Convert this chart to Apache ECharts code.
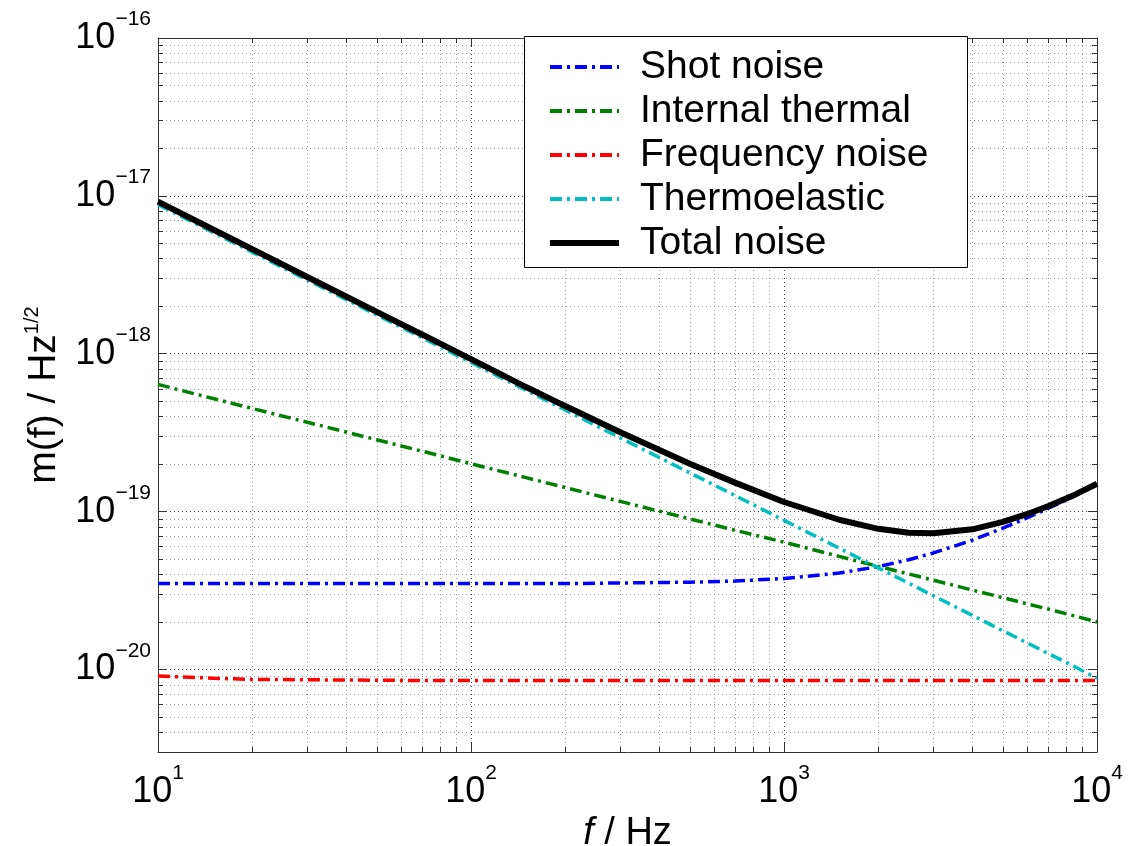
<!DOCTYPE html>
<html>
<head>
<meta charset="utf-8">
<script src="https://cdn.jsdelivr.net/npm/echarts@6/dist/echarts.min.js"></script>
<style>html,body{margin:0;padding:0;background:#fff}#chart{width:1129px;height:846px}</style>
</head>
<body>
<div id="chart"></div>
<script>
// Frequencies (Hz) and noise spectra (m / Hz^1/2)
const freq = [10, 15, 20, 30, 50, 70, 100, 150, 200, 300, 500, 700, 1000, 1500, 2000, 2500, 3000, 4000, 5000, 6000, 7000, 8500, 10000];
const shotNoise = [3.5e-20, 3.5e-20, 3.5e-20, 3.5e-20, 3.5e-20, 3.5e-20, 3.5e-20, 3.5e-20, 3.5e-20, 3.53e-20, 3.57e-20, 3.63e-20, 3.77e-20, 4.08e-20, 4.48e-20, 4.95e-20, 5.47e-20, 6.6e-20, 7.85e-20, 9.15e-20, 1.05e-19, 1.26e-19, 1.48e-19];
const internalThermal = [6.4e-19, 5.2e-19, 4.5e-19, 3.68e-19, 2.85e-19, 2.41e-19, 2.01e-19, 1.64e-19, 1.42e-19, 1.16e-19, 9.0e-20, 7.6e-20, 6.4e-20, 5.2e-20, 4.5e-20, 4.03e-20, 3.68e-20, 3.18e-20, 2.85e-20, 2.6e-20, 2.41e-20, 2.18e-20, 2.0e-20];
const frequencyNoise = [9.1e-21, 8.8e-21, 8.65e-21, 8.6e-21, 8.55e-21, 8.5e-21, 8.5e-21, 8.5e-21, 8.5e-21, 8.5e-21, 8.5e-21, 8.5e-21, 8.5e-21, 8.5e-21, 8.5e-21, 8.5e-21, 8.5e-21, 8.5e-21, 8.5e-21, 8.5e-21, 8.5e-21, 8.5e-21, 8.5e-21];
const thermoelastic = [8.8e-18, 5.87e-18, 4.4e-18, 2.93e-18, 1.76e-18, 1.26e-18, 8.8e-19, 5.87e-19, 4.4e-19, 2.93e-19, 1.76e-19, 1.26e-19, 8.8e-20, 5.87e-20, 4.4e-20, 3.52e-20, 2.93e-20, 2.2e-20, 1.76e-20, 1.47e-20, 1.26e-20, 1.04e-20, 8.8e-21];
const totalNoise = [9.2e-18, 6.12e-18, 4.6e-18, 3.06e-18, 1.84e-18, 1.32e-18, 9.25e-19, 6.15e-19, 4.66e-19, 3.18e-19, 2.01e-19, 1.52e-19, 1.15e-19, 8.88e-20, 7.78e-20, 7.34e-20, 7.28e-20, 7.72e-20, 8.6e-20, 9.66e-20, 1.085e-19, 1.28e-19, 1.5e-19];

// Axis ranges and tick decades (exponents of 10)
const xRange = [10, 10000];
const yRange = [3e-21, 1e-16];
const xDecades = [1, 2, 3, 4];
const yDecades = [-20, -19, -18, -17, -16];
const seriesNames = ['Shot noise', 'Internal thermal', 'Frequency noise', 'Thermoelastic', 'Total noise'];

const FONT = 'Liberation Sans';
const lg = Math.log10;
const xMin = lg(xRange[0]), xMax = lg(xRange[1]);
const yMin = lg(yRange[0]), yMax = lg(yRange[1]);

function minorValues(lo, hi) {
  const out = [];
  for (let n = Math.floor(lo) - 1; n <= Math.ceil(hi); n++) {
    for (let k = 2; k <= 9; k++) {
      const v = n + lg(k);
      if (v > lo + 1e-9 && v < hi - 1e-9) out.push(v);
    }
  }
  return out;
}
const xMinor = minorValues(xMin, xMax);
const yMinor = minorValues(yMin, yMax);

const labelRich = {
  b: { fontSize: 36, lineHeight: 58, verticalAlign: 'middle', fontFamily: FONT, color: '#000' },
  s: { fontSize: 21, lineHeight: 20, verticalAlign: 'top', fontFamily: FONT, color: '#000' }
};
const axisColor = '#333';
const majorGrid = { show: true, lineStyle: { color: '#444', width: 1, type: [1, 3] } };
const minorGrid = { show: true, lineStyle: { color: '#9a9a9a', width: 1, type: [1, 3] } };

function makeAxis(dim, position, values, tickLen, opts) {
  const isX = dim === 'x';
  return Object.assign({
    type: 'value',
    position: position,
    min: isX ? xMin : yMin,
    max: isX ? xMax : yMax,
    gridIndex: 0,
    axisLine: { show: false },
    axisTick: { show: true, inside: true, length: tickLen, customValues: values, lineStyle: { color: axisColor, width: 1 } },
    axisLabel: { show: false },
    splitLine: { show: false },
    minorTick: { show: false },
    minorSplitLine: { show: false }
  }, opts || {});
}

const xAxes = [
  makeAxis('x', 'bottom', xDecades, 9, {
    axisLine: { show: true, lineStyle: { color: axisColor, width: 1 } },
    axisLabel: {
      show: true, customValues: xDecades, margin: 11, rich: labelRich,
      formatter: v => '{b|10}{s|' + Math.round(v) + '}'
    },
    splitLine: majorGrid,
    name: '{i|f}{b| / Hz}', nameLocation: 'middle', nameGap: 52,
    nameTextStyle: { rich: {
      i: { fontSize: 38, fontStyle: 'italic', fontFamily: FONT, color: '#000', lineHeight: 44 },
      b: { fontSize: 38, fontFamily: FONT, color: '#000', lineHeight: 44 }
    } }
  }),
  makeAxis('x', 'bottom', xMinor, 5, { splitLine: minorGrid }),
  makeAxis('x', 'top', xDecades, 9, { axisLine: { show: true, lineStyle: { color: axisColor, width: 1 } } }),
  makeAxis('x', 'top', xMinor, 5)
];
const yAxes = [
  makeAxis('y', 'left', yDecades, 9, {
    axisLine: { show: true, lineStyle: { color: axisColor, width: 1 } },
    axisLabel: {
      show: true, customValues: yDecades, margin: 7, rich: labelRich,
      formatter: v => '{b|10}{s|\u2212' + Math.abs(Math.round(v)) + '}'
    },
    splitLine: majorGrid,
    name: '{b|m(f) / Hz}{s|1/2}', nameLocation: 'middle', nameGap: 92, nameRotate: 90,
    nameTextStyle: { rich: {
      b: { fontSize: 39, lineHeight: 44, verticalAlign: 'middle', fontFamily: FONT, color: '#000' },
      s: { fontSize: 20, lineHeight: 20, verticalAlign: 'top', fontFamily: FONT, color: '#000' }
    } }
  }),
  makeAxis('y', 'left', yMinor, 5, { splitLine: minorGrid }),
  makeAxis('y', 'right', yDecades, 9, { axisLine: { show: true, lineStyle: { color: axisColor, width: 1 } } }),
  makeAxis('y', 'right', yMinor, 5)
];

const seriesData = [shotNoise, internalThermal, frequencyNoise, thermoelastic, totalNoise];
const seriesColors = ['#0000ff', '#008000', '#ff0000', '#00bfbf', '#000000'];
const dashPattern = [12, 5, 3, 5];
const series = seriesData.map((arr, i) => {
  const isTotal = i === 4;
  return {
    name: seriesNames[i],
    type: 'line',
    xAxisIndex: 0,
    yAxisIndex: 0,
    symbol: 'none',
    showSymbol: false,
    smooth: false,
    clip: true,
    silent: true,
    z: 2 + i,
    data: freq.map((f, j) => [lg(f), lg(arr[j])]),
    itemStyle: { color: seriesColors[i] },
    lineStyle: { color: seriesColors[i], width: isTotal ? 6 : 3.5, type: isTotal ? 'solid' : dashPattern }
  };
});

const chart = echarts.init(document.getElementById('chart'), null, { renderer: 'canvas' });
chart.setOption({
  animation: false,
  backgroundColor: '#fff',
  grid: { left: 158, right: 32, top: 38, bottom: 94, containLabel: false, outerBoundsMode: 'none' },
  xAxis: xAxes,
  yAxis: yAxes,
  graphic: [{
    type: 'rect', z: 3, silent: true,
    shape: { x: 524.5, y: 36.5, width: 443, height: 231 },
    style: { fill: '#fff', stroke: '#000', lineWidth: 1 }
  }],
  legend: {
    data: seriesNames.map((n, i) => ({
      name: n,
      itemStyle: { opacity: 0 },
      lineStyle: { width: i === 4 ? 6 : 4, type: i === 4 ? 'solid' : dashPattern, color: seriesColors[i] }
    })),
    orient: 'vertical',
    left: 547, top: 45,
    padding: 0, itemGap: 0,
    itemWidth: 69, itemHeight: 14,
    selectedMode: false,
    z: 4,
    itemStyle: { opacity: 0 },
    formatter: name => '{g|}' + name,
    textStyle: {
      fontFamily: FONT, fontSize: 39, color: '#000', lineHeight: 44,
      rich: { g: { width: 16, fontSize: 39, lineHeight: 44 } }
    }
  },
  series: series
});
</script>
</body>
</html>
